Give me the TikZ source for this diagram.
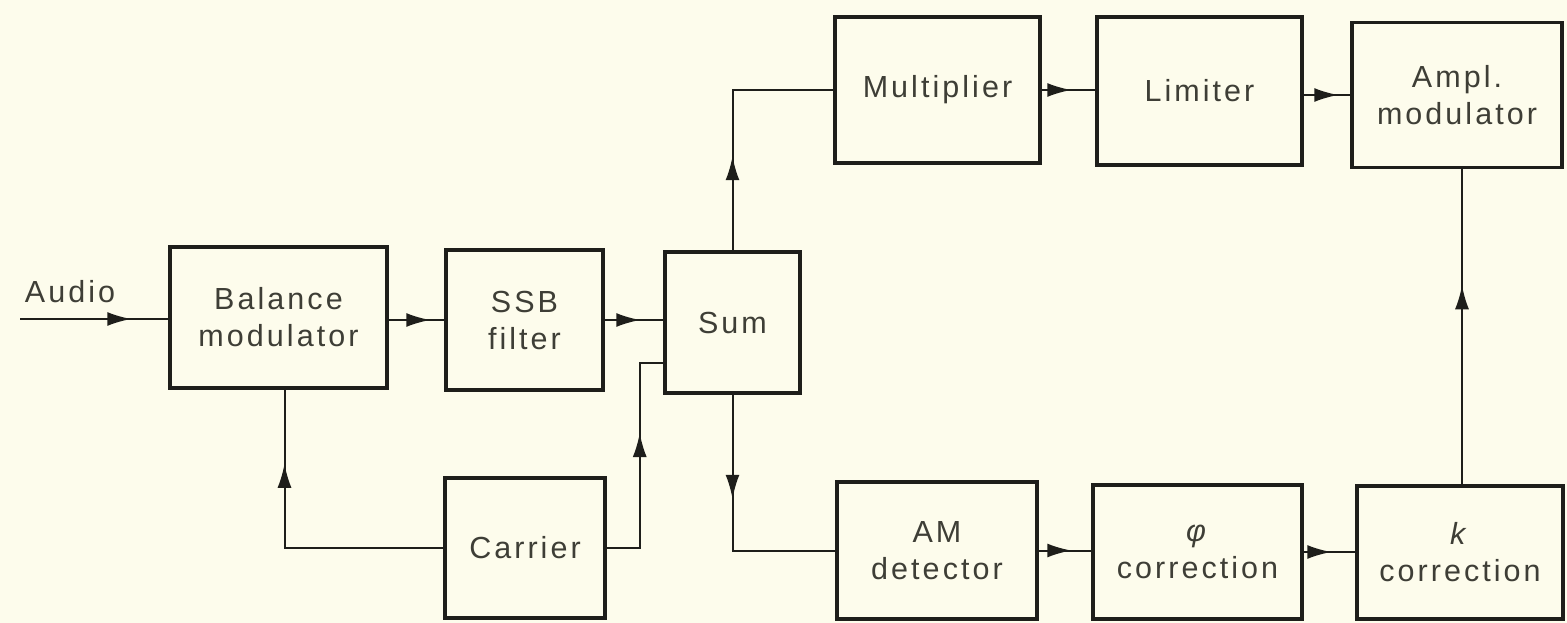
\documentclass[tikz,border=0pt]{standalone}
\usepackage{fontspec}
\setmainfont{Liberation Sans}[LetterSpace=10]
\usetikzlibrary{arrows.meta,decorations.markings}
\definecolor{bg}{RGB}{253,252,236}
\definecolor{ink}{RGB}{30,30,26}
\definecolor{txt}{RGB}{62,62,54}
\newcommand\fsz{\fontsize{30.5}{37}\selectfont}
\begin{document}
\begin{tikzpicture}[x=1pt,y=-1pt,
  blk/.style={draw=ink, line width=3.5pt, inner sep=0pt, align=center, text=txt, font=\fsz},
  wire/.style={draw=ink, color=ink, line width=2pt},
  arr/.style={postaction={decorate}, decoration={markings, mark=at position #1 with {\arrow{Latex[length=24pt,width=14pt]}}}}]
\fill[bg] (0,0) rectangle (1567,623);
\useasboundingbox (0,0) rectangle (1567,623);

\node[blk, minimum width=217pt, minimum height=141pt] (bal) at (278.5,317.5) {Balance\\modulator};
\node[blk, minimum width=157pt, minimum height=140pt] (ssb) at (524.5,320) {SSB\\filter};
\node[blk, minimum width=135pt, minimum height=141pt] (sum) at (732.5,322.5) {Sum};
\node[blk, minimum width=160pt, minimum height=140pt] (car) at (525,548) {Carrier};
\node[blk, minimum width=205pt, minimum height=146pt] (mul) at (937.5,90) {Multiplier};
\node[blk, minimum width=205pt, minimum height=148pt] (lim) at (1199.5,91) {Limiter};
\node[blk, minimum width=210pt, minimum height=145pt] (amp) at (1457,95) {Ampl.\\modulator};
\node[blk, minimum width=200pt, minimum height=137pt] (amd) at (937,550.5) {AM\\detector};
\node[blk, minimum width=209pt, minimum height=134pt] (phi) at (1197.5,552) {\textit{φ}\\correction};
\node[blk, minimum width=206pt, minimum height=133pt] (kc) at (1460,552.5) {\textit{k}\\correction};

\node[text=txt, font=\fsz, anchor=base] (aud) at (70,302) {Audio};
\coordinate (audin) at (20,319);

\draw[wire, arr=-37pt] (audin) -- (audin -| bal.west);
\draw[wire, arr=-14pt] (ssb.west -| bal.east) -- (ssb.west);
\draw[wire, arr=-23pt] (ssb.east) -- (ssb.east -| sum.west);
\draw[wire, arr=148pt] (car.east) -- ++(33,0) |- ([yshift=-40pt]sum.west);
\draw[wire, arr=243pt] (car.west) -| ([xshift=6pt]bal.south);
\draw[wire, arr=94pt] (sum.north) |- (mul.west);
\draw[wire, arr=104pt] (sum.south) |- (amd.west);
\draw[wire, arr=-24pt] (mul.east) -- (mul.east -| lim.west);
\draw[wire, arr=-12pt] (amp.west -| lim.east) -- (amp.west);
\draw[wire, arr=-20pt] (amd.east) -- (amd.east -| phi.west);
\draw[wire, arr=-24pt] (phi.east) -- (phi.east -| kc.west);
\draw[wire, arr=199pt] ([xshift=2pt]kc.north) -- ([xshift=2pt]kc.north |- amp.south);
\end{tikzpicture}
\end{document}
